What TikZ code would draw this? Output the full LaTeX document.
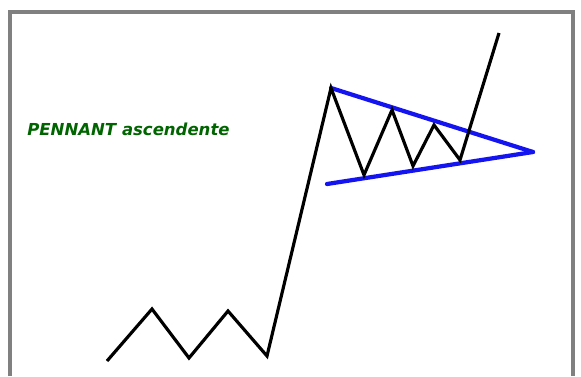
\documentclass[tikz,border=0pt]{standalone}
\usepackage{fontspec}
\setmainfont{DejaVu Sans}
\usetikzlibrary{calc}

\definecolor{frameGray}{RGB}{128,128,128}
\definecolor{titleGreen}{RGB}{0,100,0}
\definecolor{trendBlue}{RGB}{20,20,240}

\begin{document}
\begin{tikzpicture}[
  x=0.02cm, y=-0.02cm,
  frame/.style={draw=frameGray, line width=2pt},
  price/.style={draw=black, line width=1.8pt, line join=miter},
  trend/.style={draw=trendBlue, line width=2.4pt, line cap=round},
  title/.style={font=\fontsize{9.4}{11}\selectfont\bfseries\itshape, text=titleGreen, anchor=base west, inner sep=0pt}
]
\useasboundingbox (0,0) rectangle (581,376);

% Frame (open at the bottom)
\draw[frame] (10,376) -- (10,12) -- (573,12) -- (573,376);

% Title
\node[title] (lbl) at (27,135) {PENNANT ascendente};

% Key points of the pattern
\coordinate (mast) at (331,88);
\coordinate (tip) at (533,152);
\coordinate (low) at (327,184);

% Pennant lines
\draw[trend] (mast) -- (tip);
\draw[trend] (low) -- (tip);

% Price path
\draw[price] (107,361) -- (152,309) -- (189,358) -- (228,311) -- (267,356)
  -- (mast) -- (364,175) -- (392,110) -- (413,166) -- (434,125)
  -- (460,160) -- (499,33);
\end{tikzpicture}
\end{document}
